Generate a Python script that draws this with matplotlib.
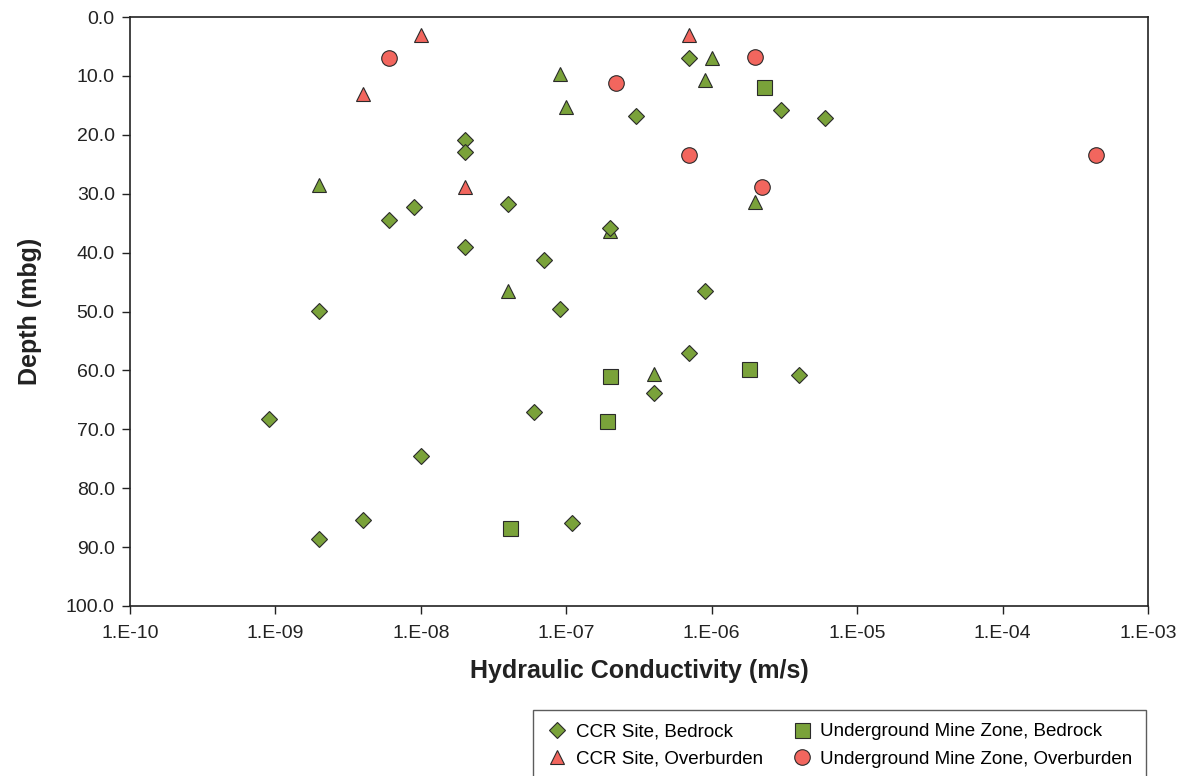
import matplotlib
matplotlib.use("Agg")
import matplotlib.pyplot as plt
from matplotlib.ticker import FixedLocator, FuncFormatter, NullLocator

plt.rcParams['font.family'] = ['Liberation Sans', 'DejaVu Sans']

# CCR Site, Bedrock (diamonds)
ccr_bed_k = [7e-7, 3e-7, 3e-6, 6e-6, 2e-8, 2e-8, 9e-9, 6e-9, 4e-8, 2e-7, 2e-8, 7e-8,
             2e-9, 9e-8, 9e-7, 7e-7, 4e-7, 4e-6, 6e-8, 9e-10, 1e-8, 4e-9, 2e-9, 1.1e-7]
ccr_bed_d = [7.0, 16.8, 15.8, 17.2, 20.9, 22.9, 32.2, 34.5, 31.7, 35.9, 39.1, 41.3,
             49.9, 49.5, 46.5, 57.0, 63.9, 60.7, 67.1, 68.3, 74.6, 85.4, 88.6, 85.9]

# Additional bedrock tests (green triangles, not in legend)
ccr_bed2_k = [9e-8, 1e-7, 1e-6, 9e-7, 2e-9, 2e-6, 2e-7, 4e-8, 4e-7]
ccr_bed2_d = [9.7, 15.3, 7.0, 10.7, 28.6, 31.4, 36.3, 46.5, 60.6]

# CCR Site, Overburden (red triangles)
ccr_ob_k = [1e-8, 4e-9, 7e-7, 2e-8]
ccr_ob_d = [3.0, 13.0, 3.0, 28.9]

# Underground Mine Zone, Bedrock (squares)
umz_bed_k = [2.3e-6, 2e-7, 1.8e-6, 1.9e-7, 4.1e-8]
umz_bed_d = [11.8, 61.0, 59.7, 68.6, 86.8]

# Underground Mine Zone, Overburden (circles)
umz_ob_k = [6e-9, 2.2e-7, 2e-6, 7e-7, 2.2e-6, 4.4e-4]
umz_ob_d = [7.0, 11.2, 6.8, 23.5, 28.9, 23.4]

x_ticks = [1e-10, 1e-9, 1e-8, 1e-7, 1e-6, 1e-5, 1e-4, 1e-3]
x_tick_labels = ["1.E-10", "1.E-09", "1.E-08", "1.E-07", "1.E-06", "1.E-05", "1.E-04", "1.E-03"]
y_ticks = [0, 10, 20, 30, 40, 50, 60, 70, 80, 90, 100]

GREEN = '#7aa23a'
RED = '#f2665e'
EDGE = '#2a2a2a'

fig = plt.figure(figsize=(11.85, 7.76), dpi=100)
ax = fig.add_axes([130/1185, 1-606/776, (1148-130)/1185, (606-17)/776])

ax.plot(ccr_bed2_k, ccr_bed2_d, linestyle='none', marker='^', ms=10.5, mfc=GREEN,
        mec=EDGE, mew=0.8, zorder=3)
ax.plot(ccr_bed_k, ccr_bed_d, linestyle='none', marker='D', ms=7.9, mfc=GREEN,
        mec=EDGE, mew=0.8, zorder=4, label='CCR Site, Bedrock')
ax.plot(ccr_ob_k, ccr_ob_d, linestyle='none', marker='^', ms=10.5, mfc=RED,
        mec=EDGE, mew=0.8, zorder=5, label='CCR Site, Overburden')
ax.plot(umz_bed_k, umz_bed_d, linestyle='none', marker='s', ms=10.8, mfc=GREEN,
        mec=EDGE, mew=0.8, zorder=5, label='Underground Mine Zone, Bedrock')
ax.plot(umz_ob_k, umz_ob_d, linestyle='none', marker='o', ms=11.2, mfc=RED,
        mec=EDGE, mew=0.8, zorder=6, label='Underground Mine Zone, Overburden')

ax.set_xscale('log')
ax.set_xlim(1e-10, 1e-3)
ax.set_ylim(100, 0)
ax.xaxis.set_major_locator(FixedLocator(x_ticks))
ax.xaxis.set_minor_locator(NullLocator())
ax.set_xticklabels(x_tick_labels)
ax.set_yticks(y_ticks)
ax.yaxis.set_major_formatter(FuncFormatter(lambda v, p: f"{v:.1f}"))

ax.tick_params(axis='both', which='major', direction='out', length=6, width=1.0,
               color='#222222', labelsize=14, labelcolor='#222222')
ax.tick_params(axis='x', pad=8)
ax.tick_params(axis='y', pad=5)
ax.tick_params(top=False, right=False)

for sp in ax.spines.values():
    sp.set_color('#222222')
    sp.set_linewidth(1.2)

ax.set_xlabel('Hydraulic Conductivity (m/s)', fontsize=18, fontweight='bold',
              color='#222222', labelpad=12)
ax.set_ylabel('Depth (mbg)', fontsize=18, fontweight='bold', color='#222222',
              labelpad=17)

handles, labels = ax.get_legend_handles_labels()
leg = fig.legend(handles, labels,
                 loc='upper left', bbox_to_anchor=(533/1185, 1-710/776), ncol=2,
                 fontsize=13.5, frameon=True, fancybox=False, shadow=False,
                 edgecolor='#333333', handletextpad=0.4, columnspacing=1.45,
                 handlelength=1.2, borderpad=0.7, labelspacing=0.55,
                 borderaxespad=0)
leg.get_frame().set_linewidth(1.0)

fig.savefig('out.png', dpi=100)
